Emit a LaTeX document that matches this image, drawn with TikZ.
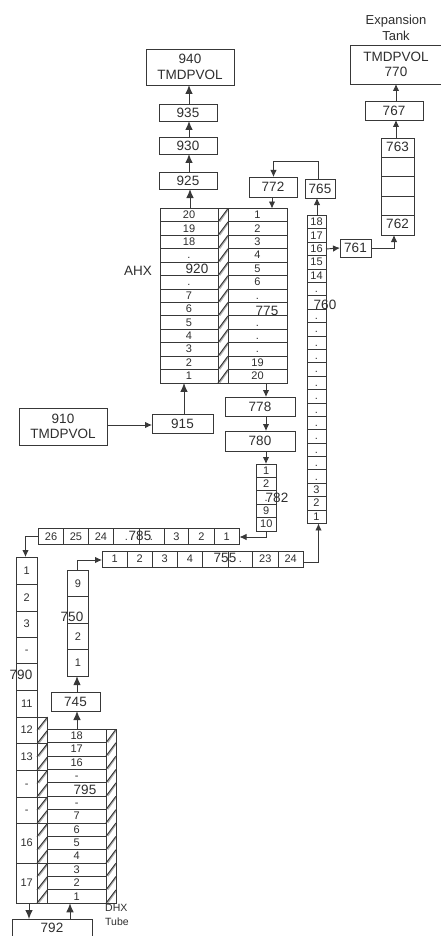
\documentclass[tikz,border=0pt]{standalone}
\usepackage{fontspec}
\setmainfont{Liberation Sans}
\usetikzlibrary{arrows.meta}
\definecolor{ln}{gray}{0.22}
\definecolor{txt}{gray}{0.18}
\tikzset{
  boxnode/.style={draw=ln,line width=0.9pt,inner sep=0pt,outer sep=0pt,text=txt,font=\fontsize{13.5}{16}\selectfont,align=center},
  cellnode/.style={draw=ln,line width=0.9pt,inner sep=0pt,outer sep=0pt,text=txt,font=\fontsize{11}{12}\selectfont,text height=7.9pt,text depth=0.9pt,align=center},
  tagnode/.style={inner sep=0pt,text=txt,font=\fontsize{13.5}{16}\selectfont},
  smallnode/.style={inner sep=0pt,text=txt,font=\fontsize{10}{12}\selectfont},
  arr/.style={draw=ln,line width=0.9pt,-{Latex[length=7pt,width=6.5pt]}},
  bigarr/.style={draw=ln,line width=0.9pt,-{Latex[length=9pt,width=7.5pt]}},
}
% name x1 y1 x2 y2 text
\newcommand{\bxn}[6]{%
  \pgfmathsetmacro{\bcx}{(#2+#4)/2}\pgfmathsetmacro{\bcy}{(#3+#5)/2}%
  \pgfmathsetmacro{\bw}{#4-#2}\pgfmathsetmacro{\bh}{#5-#3}%
  \node[boxnode,minimum width=\bw pt,minimum height=\bh pt] (#1) at (\bcx,\bcy) {#6};}
% vertical stack: name x1 y1 x2 rowheight list
\newcommand{\vstack}[6]{%
  \pgfmathsetmacro{\sw}{#4-#2}\pgfmathsetmacro{\scx}{(#2+#4)/2}%
  \foreach \t [count=\i] in {#6}{%
    \pgfmathsetmacro{\scy}{#3+(\i-0.5)*#5}%
    \node[cellnode,minimum width=\sw pt,minimum height=#5 pt] (#1-\i) at (\scx,\scy) {\t};}}
% one hatch stroke in a strip x1..x2 between y1 and y2
\newcommand{\hstroke}[4]{%
  \draw[draw=ln!40,line width=2pt] (#1+1.5,#4-0.5) -- (#3-0.5,#2+1.5);
  \draw[draw=ln,line width=0.9pt] (#1,#4) -- (#3,#2);}
\begin{document}
\begin{tikzpicture}[x=1pt,y=-1pt]
\useasboundingbox (0,0) rectangle (441,936);
% hatch columns
\foreach \y in {0,...,12}{
  \hstroke{218}{208.5+\y*13.42}{228}{208.5+\y*13.42+13.42}
  \hstroke{106}{729.3+\y*13.38}{116}{729.3+\y*13.38+13.38}
}
\foreach \y in {0,...,13}{
  \hstroke{37}{717+\y*13.29}{47.5}{717+\y*13.29+13.29}
}
\foreach \y in {743,770,797,823,863}{\draw[draw=ln,line width=0.9pt] (37,\y) -- (47.5,\y);}
\draw[draw=ln,line width=0.9pt] (218,208.5) rectangle (228,383);
\draw[draw=ln,line width=0.9pt] (106,729.3) rectangle (116,903.3);
\draw[draw=ln,line width=0.9pt] (37,717) rectangle (47.5,903);
% top left chain
\bxn{n940}{146}{49}{234}{85}{940\\[-0.5pt]TMDPVOL}
\bxn{n935}{159}{104}{217}{121}{935}
\bxn{n930}{159}{137}{217}{154}{930}
\bxn{n925}{159}{172}{217}{189}{925}
% top right chain
\node[tagnode,align=center,font=\fontsize{13}{16}\selectfont] (tanklabel) at (396,28) {Expansion\\Tank};
\bxn{n770}{350}{45}{442}{84}{TMDPVOL\\[-0.5pt]770}
\bxn{n767}{365}{101}{423}{120}{767}
\vstack{s763}{381}{138}{414}{19.4}{{},{},{},{},{}}
\node[tagnode] (tag763) at (397.5,147) {763};
\node[tagnode] (tag762) at (397.5,224) {762};
\bxn{n765}{305}{179}{335}{198}{765}
\bxn{n772}{249}{177}{297}{197}{772}
\bxn{n761}{340}{239}{371}{257}{761}
% AHX
\vstack{ahxl}{160}{208.5}{218}{13.42}{20,19,18,.,{},.,7,6,5,4,3,2,1}
\vstack{ahxr}{228}{208.5}{287}{13.42}{1,2,3,4,5,6,.,{},.,.,.,19,20}
\node[tagnode] (tagahx) at (138,271) {AHX};
\node[tagnode] (tag920) at (197,269) {920};
\node[tagnode] (tag775) at (267,311) {775};
% 760
\vstack{sx}{307}{215.5}{326}{13.39}{18,17,16,15,14,.,{},.,.,.,.,.,.,.,.,.,.,.,.,.,3,2,1}
\node[tagnode] (tag760) at (325,305) {760};
% 910 915 778 780
\bxn{n910}{19}{408}{107}{445}{910\\[-0.5pt]TMDPVOL}
\bxn{n915}{152}{414}{213}{433}{915}
\bxn{n778}{225}{397}{295}{416}{778}
\bxn{n780}{225}{431}{295}{451}{780}
% 782
\vstack{s782}{256.5}{464}{276}{13.4}{1,2,.,9,10}
\node[tagnode] (tag782) at (277,498) {782};
% horizontal 785
\foreach \t/\a/\b [count=\i] in {26/38.5/63.7,25/63.7/88.3,24/88.3/113.7,./113.7/139,./139/164,3/164/188.7,2/188.7/214,1/214/239.5}{
  \pgfmathsetmacro{\w}{\b-\a}\pgfmathsetmacro{\c}{(\a+\b)/2}
  \node[cellnode,minimum width=\w pt,minimum height=15.5pt] (r785-\i) at (\c,536.5) {\t};
}
\node[tagnode] (tag785) at (140,535.5) {785};
% horizontal 755
\foreach \t/\a/\b [count=\i] in {1/102/127.3,2/127.3/152,3/152/177.3,4/177.3/202.7,{}/202.7/228,./228/252.7,23/252.7/278,24/278/303.3}{
  \pgfmathsetmacro{\w}{\b-\a}\pgfmathsetmacro{\c}{(\a+\b)/2}
  \node[cellnode,minimum width=\w pt,minimum height=16pt] (r755-\i) at (\c,559) {\t};
}
\node[tagnode] (tag755) at (225,558) {755};
% 790
\foreach \t/\a/\b [count=\i] in {1/557/584,2/584/611,3/611/637,-/637/663,{}/663/690,11/690/717,12/717/743,13/743/770,-/770/797,-/797/823,16/823/863,17/863/903}{
  \pgfmathsetmacro{\h}{\b-\a}\pgfmathsetmacro{\c}{(\a+\b)/2}
  \node[cellnode,minimum width=20.5pt,minimum height=\h pt] (s790-\i) at (26.75,\c) {\t};
}
\node[tagnode] (tag790) at (21,675) {790};
% 750
\vstack{s750}{67.5}{570.5}{88.5}{26.4}{9,{},2,1}
\node[tagnode] (tag750) at (72,617) {750};
\bxn{n745}{51}{692}{100}{711}{745}
% 795
\vstack{s795}{47.5}{729.3}{106}{13.38}{18,17,16,-,{},-,7,6,5,4,3,2,1}
\node[tagnode] (tag795) at (85,790) {795};
% 792
\bxn{n792}{12.5}{919}{92.5}{940}{}
\node[tagnode] (tag792) at (52,928) {792};
\node[smallnode,align=left,anchor=north west,font=\fontsize{10.5}{14}\selectfont] (dhx) at (105,904.5) {DHX\\Tube};
% connectors
\draw[bigarr] (189,0 |- n935.north) -- (189,0 |- n940.south);
\draw[bigarr] (189,0 |- n930.north) -- (189,0 |- n935.south);
\draw[bigarr] (189,0 |- n925.north) -- (189,0 |- n930.south);
\draw[bigarr] (190,0 |- ahxl-1.north) -- (190,0 |- n925.south);
\draw[arr] (396,0 |- n767.north) -- (396,0 |- n770.south);
\draw[arr] (396,0 |- s763-1.north) -- (396,0 |- n767.south);
\draw[arr] (n761.east) -- (394,0 |- n761.east) -- (394,0 |- s763-5.south);
\draw[arr] (sx-3.east) -- (n761.west);
\draw[arr] (317,0 |- sx-1.north) -- (317,0 |- n765.south);
\draw[arr] (318,0 |- n765.north) -- (318,161) -- (273.5,161) -- (273.5,0 |- n772.north);
\draw[arr] (272,0 |- n772.south) -- (272,0 |- ahxr-1.north);
\draw[bigarr] (184,0 |- n915.north) -- (184,0 |- ahxl-13.south);
\draw[arr] (n910.east |- 0,425) -- (n915.west |- 0,425);
\draw[arr] (266,0 |- ahxr-13.south) -- (266,0 |- n778.north);
\draw[arr] (266,0 |- n778.south) -- (266,0 |- n780.north);
\draw[arr] (266,0 |- n780.south) -- (266,0 |- s782-1.north);
\draw[arr] (266,0 |- s782-5.south) -- (266,537) -- (r785-8.east |- 0,537);
\draw[arr] (r785-1.west) -- (25.5,0 |- r785-1.west) -- (25.5,0 |- s790-1.north);
\draw[arr] (77.5,0 |- s750-1.north) -- (77.5,560) -- (r755-1.west |- 0,560);
\draw[arr] (r755-8.east |- 0,562) -- (318.5,562) -- (318.5,0 |- sx-23.south);
\draw[bigarr] (77,0 |- n745.north) -- (77,0 |- s750-4.south);
\draw[bigarr] (77,0 |- s795-1.north) -- (77,0 |- n745.south);
\draw[bigarr] (29,0 |- s790-12.south) -- (29,0 |- n792.north);
\draw[bigarr] (70,0 |- n792.north) -- (70,0 |- s795-13.south);
\end{tikzpicture}
\end{document}
